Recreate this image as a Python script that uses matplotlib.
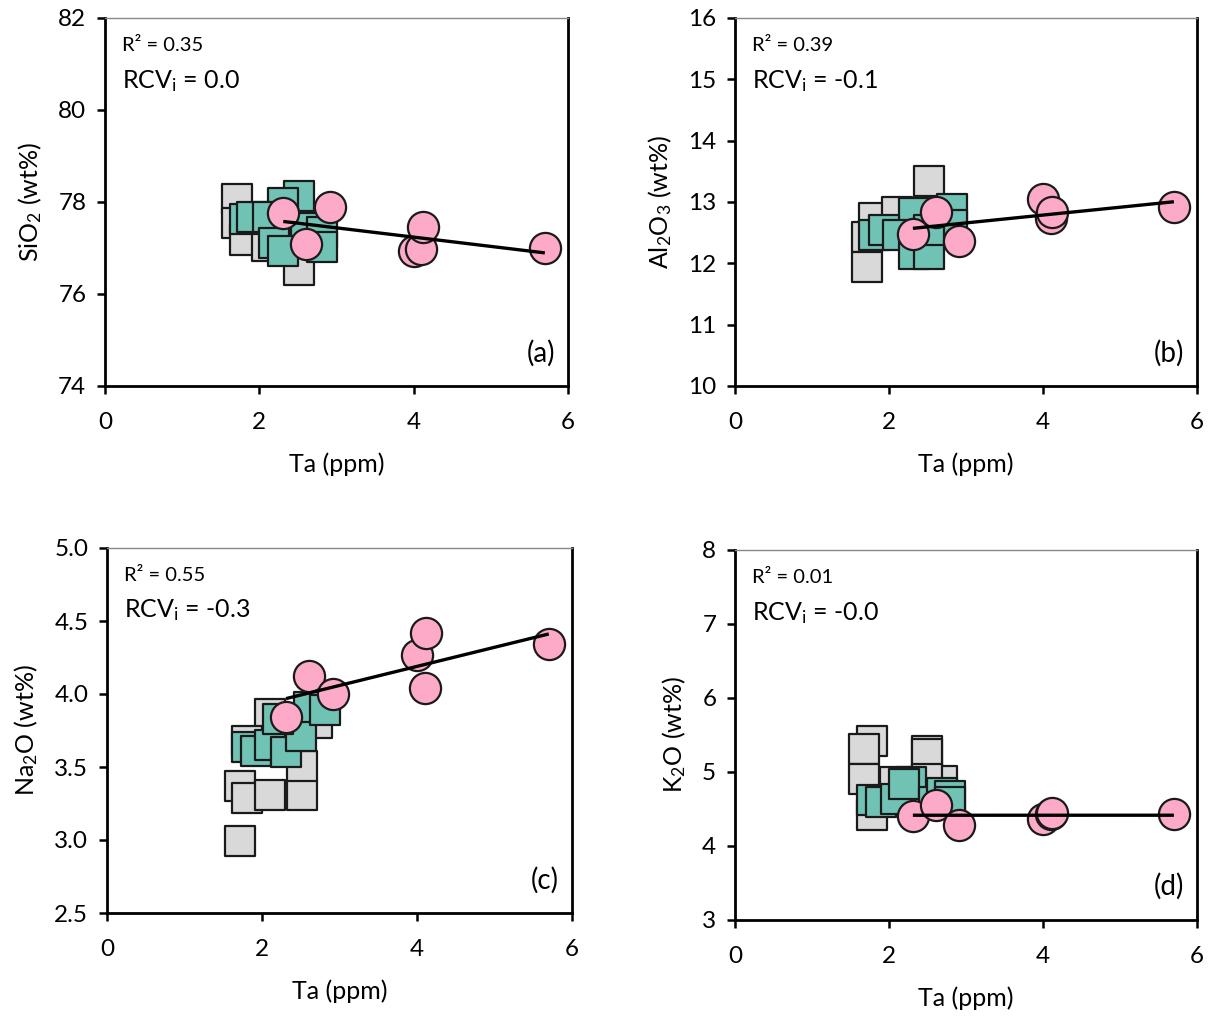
import numpy as np
import matplotlib
matplotlib.use("Agg")
import matplotlib.pyplot as plt

plt.rcParams['font.family'] = ['Lato', 'DejaVu Sans']
plt.rcParams['mathtext.default'] = 'regular'

# ---------------- data ----------------
ta_pink = [2.31, 2.61, 2.91, 4.00, 4.10, 4.12, 5.70]
sio2_pink = [77.76, 77.09, 77.89, 76.93, 76.98, 77.46, 77.00]
al2o3_pink = [12.48, 12.84, 12.36, 13.05, 12.74, 12.83, 12.92]
na2o_pink = [3.84, 4.12, 4.00, 4.27, 4.04, 4.42, 4.34]
k2o_pink = [4.41, 4.55, 4.28, 4.36, 4.43, 4.45, 4.43]

# panel (a) squares
a_gray_ta = [1.71, 1.71, 1.81, 2.10, 2.51, 2.40, 2.20]
a_gray_val = [78.06, 77.54, 77.17, 77.04, 76.52, 77.20, 77.30]
a_teal_ta = [2.51, 2.31, 1.81, 1.90, 2.11, 2.60, 2.19, 2.31, 2.81, 2.81]
a_teal_val = [78.13, 77.98, 77.62, 77.68, 77.68, 77.43, 77.10, 76.94, 77.35, 77.03]

# panel (b) squares
b_gray_ta = [2.52, 1.81, 2.11, 1.72, 1.72]
b_gray_val = [13.35, 12.74, 12.84, 12.43, 11.94]
b_teal_ta = [2.82, 2.33, 1.81, 1.93, 2.12, 2.33, 2.52, 2.82, 2.52]
b_teal_val = [12.88, 12.82, 12.47, 12.54, 12.46, 12.16, 12.16, 12.62, 12.55]

# panel (c) squares
c_gray_ta = [1.71, 1.71, 1.81, 2.10, 2.51, 2.51, 2.10, 1.80, 2.71]
c_gray_val = [2.99, 3.37, 3.29, 3.31, 3.31, 3.51, 3.86, 3.68, 3.80]
c_teal_ta = [1.81, 1.92, 2.10, 2.31, 2.50, 2.21, 2.61, 2.81]
c_teal_val = [3.64, 3.61, 3.65, 3.60, 3.71, 3.83, 3.91, 3.89]

# panel (d) squares
d_gray_ta = [1.78, 1.68, 1.68, 1.78, 2.49, 2.49, 2.69, 2.49, 2.08]
d_gray_val = [5.42, 5.31, 4.91, 4.42, 5.28, 5.24, 4.88, 4.91, 4.87]
d_teal_ta = [1.78, 1.89, 2.09, 2.29, 2.20, 2.58, 2.69, 2.79, 2.79]
d_teal_val = [4.62, 4.60, 4.64, 4.87, 4.84, 4.60, 4.71, 4.67, 4.60]

panels = [
    dict(label='(a)', ylabel='SiO$_2$ (wt%)', ylim=(74, 82), yticks=[74, 76, 78, 80, 82],
         yfmt='{:.0f}', pink=sio2_pink, gx=a_gray_ta, gy=a_gray_val, tx=a_teal_ta, ty=a_teal_val,
         r2='R² = 0.35', rcv='RCV$_i$ = 0.0'),
    dict(label='(b)', ylabel='Al$_2$O$_3$ (wt%)', ylim=(10, 16), yticks=[10, 11, 12, 13, 14, 15, 16],
         yfmt='{:.0f}', pink=al2o3_pink, gx=b_gray_ta, gy=b_gray_val, tx=b_teal_ta, ty=b_teal_val,
         r2='R² = 0.39', rcv='RCV$_i$ = -0.1'),
    dict(label='(c)', ylabel='Na$_2$O (wt%)', ylim=(2.5, 5.0), yticks=[2.5, 3.0, 3.5, 4.0, 4.5, 5.0],
         yfmt='{:.1f}', pink=na2o_pink, gx=c_gray_ta, gy=c_gray_val, tx=c_teal_ta, ty=c_teal_val,
         r2='R² = 0.55', rcv='RCV$_i$ = -0.3'),
    dict(label='(d)', ylabel='K$_2$O (wt%)', ylim=(3, 8), yticks=[3, 4, 5, 6, 7, 8],
         yfmt='{:.0f}', pink=k2o_pink, gx=d_gray_ta, gy=d_gray_val, tx=d_teal_ta, ty=d_teal_val,
         r2='R² = 0.01', rcv='RCV$_i$ = -0.0'),
]

W, H = 1214, 1023
fig = plt.figure(figsize=(W / 100, H / 100), dpi=100)
boxes = [(105, 18, 568, 386), (735, 18, 1197, 386), (107, 548, 572, 913), (735, 550, 1197, 920)]

GRAY = '#d9d9d9'
TEAL = '#70c2b4'
PINK = '#fdaac8'
S = 480

for p, (l, t, r, b) in zip(panels, boxes):
    ax = fig.add_axes([l / W, 1 - b / H, (r - l) / W, (b - t) / H])
    ax.scatter(p['gx'], p['gy'], marker='s', s=S, c=GRAY, edgecolors='#1a1a1a', linewidths=1.6, zorder=2)
    ax.scatter(p['tx'], p['ty'], marker='s', s=S, c=TEAL, edgecolors='#1a1a1a', linewidths=1.6, zorder=3)
    ax.scatter(ta_pink, p['pink'], marker='o', s=S * 1.05, c=PINK, edgecolors='#1a1a1a', linewidths=1.6, zorder=4)
    coef = np.polyfit(ta_pink, p['pink'], 1)
    xs = np.array([min(ta_pink), max(ta_pink)])
    ax.plot(xs, np.polyval(coef, xs), color='black', lw=2.4, zorder=5, solid_capstyle='butt')

    ax.set_xlim(0, 6)
    ax.set_ylim(*p['ylim'])
    ax.set_xticks([0, 2, 4, 6])
    ax.set_yticks(p['yticks'])
    ax.set_yticklabels([p['yfmt'].format(v) for v in p['yticks']])
    ax.tick_params(direction='out', length=5.5, width=1.8, labelsize=17.5, pad=8, color='black')
    ax.tick_params(axis='x', pad=13)
    for side in ['left', 'bottom', 'right']:
        ax.spines[side].set_linewidth(2.0)
        ax.spines[side].set_color('black')
    ax.spines['top'].set_linewidth(1.0)
    ax.spines['top'].set_color('#888888')
    ax.set_xlabel('Ta (ppm)', fontsize=18, labelpad=14)
    ax.set_ylabel(p['ylabel'], fontsize=18, labelpad=10)
    ax.text(0.037, 0.925, p['r2'], transform=ax.transAxes, fontsize=14.5, va='center', ha='left')
    ax.text(0.037, 0.83, p['rcv'], transform=ax.transAxes, fontsize=18, va='center', ha='left')
    ax.text(0.972, 0.09, p['label'], transform=ax.transAxes, fontsize=20, va='center', ha='right')

fig.savefig('out.png', dpi=100)
